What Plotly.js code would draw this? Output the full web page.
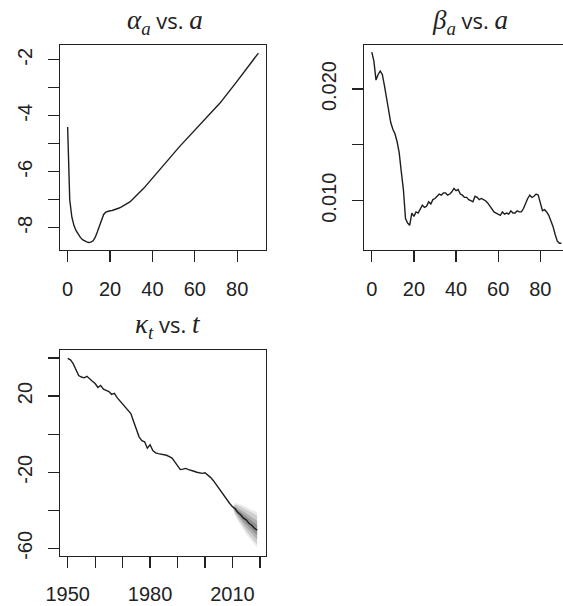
<!DOCTYPE html>
<html>
<head>
<meta charset="utf-8">
<script src="https://cdn.plot.ly/plotly-3.0.1.min.js"></script>
<style>
html,body{margin:0;padding:0;overflow:hidden;background:#fff;}
#chart{width:575px;height:606px;}
</style>
</head>
<body>
<div id="chart"></div>
<script>
// ---------- data ----------
const ages = [];
for (let i = 0; i <= 90; i++) ages.push(i);

const alphaA = [
 -4.40,-7.00,-7.62,-7.92,-8.10,-8.24,-8.34,-8.42,-8.47,-8.50,
 -8.52,-8.51,-8.46,-8.34,-8.15,-7.92,-7.68,-7.52,-7.44,-7.41,
 -7.39,-7.38,-7.36,-7.33,-7.30,-7.27,-7.23,-7.19,-7.14,-7.09,
 -7.03,-6.96,-6.89,-6.82,-6.74,-6.66,-6.58,-6.49,-6.40,-6.31,
 -6.22,-6.13,-6.04,-5.95,-5.86,-5.77,-5.68,-5.59,-5.50,-5.41,
 -5.32,-5.24,-5.16,-5.08,-5.00,-4.92,-4.84,-4.76,-4.68,-4.60,
 -4.52,-4.44,-4.36,-4.28,-4.20,-4.12,-4.04,-3.96,-3.88,-3.80,
 -3.71,-3.62,-3.53,-3.44,-3.35,-3.26,-3.16,-3.06,-2.96,-2.86,
 -2.76,-2.66,-2.56,-2.46,-2.36,-2.26,-2.16,-2.06,-1.96,-1.86,
 -1.76
];

const betaA = [
 0.0233,0.0225,0.0208,0.0213,0.0216,0.0213,0.0203,0.0192,0.0181,0.0170,
 0.0164,0.0160,0.0153,0.0143,0.0126,0.0110,0.0084,0.0080,0.0078,0.0089,
 0.0086,0.0090,0.0089,0.0093,0.0096,0.0094,0.0095,0.0099,0.0097,0.0101,
 0.0102,0.0104,0.0106,0.0105,0.0107,0.0107,0.0105,0.0106,0.0108,0.0111,
 0.0109,0.0110,0.0106,0.0105,0.0103,0.0103,0.0101,0.0100,0.0099,0.0104,
 0.0103,0.0101,0.0102,0.0101,0.0100,0.0098,0.0095,0.0093,0.0090,0.0089,
 0.0088,0.0087,0.0090,0.0088,0.0089,0.0088,0.0091,0.0089,0.0089,0.0091,
 0.0090,0.0090,0.0093,0.0098,0.0102,0.0105,0.0103,0.0104,0.0106,0.0105,
 0.0097,0.0091,0.0092,0.0090,0.0087,0.0082,0.0077,0.0070,0.0064,0.0062,
 0.0062
];

const years = [];
for (let y = 1950; y <= 2019; y++) years.push(y);

const kappaT = [
  39.8, 39.0, 37.0, 33.5, 30.8, 30.0, 29.6, 30.4, 28.9, 27.8,
  26.6, 24.5, 25.6, 23.6, 23.0, 22.4, 20.9, 21.4, 19.2, 17.6,
  15.6, 13.9, 12.4, 10.8,  6.6,  2.0, -1.4, -3.4, -4.0, -7.4,
  -5.6, -8.6, -9.8,-10.2,-10.5,-10.7,-11.1,-11.8,-12.6,-14.6,
 -16.4,-18.6,-18.4,-18.0,-18.6,-18.9,-19.5,-20.0,-20.4,-20.6,
 -20.3,-21.4,-22.7,-24.3,-26.4,-28.6,-30.4,-32.2,-34.8,-36.4,
 -38.1,-39.2,-41.2,-42.3,-44.1,-45.0,-46.8,-47.8,-49.4,-50.4
];

// forecast fan (2010-2019): nested prediction bands
const fanYears   = [2010,2011,2012,2013,2014,2015,2016,2017,2018,2019];
const fanWideHi  = [-38.1,-36.2,-36.4,-36.8,-37.5,-38.2,-38.9,-39.7,-40.4,-41.0];
const fanWideLo  = [-38.1,-42.8,-45.6,-48.0,-50.3,-52.4,-54.4,-56.3,-58.0,-59.6];
const fanOuterHi = [-38.1,-37.0,-37.4,-38.0,-38.8,-39.6,-40.4,-41.3,-42.0,-42.8];
const fanOuterLo = [-38.1,-42.0,-44.6,-46.8,-49.0,-51.0,-52.8,-54.7,-56.4,-58.0];
const fanMidHi   = [-38.1,-37.9,-38.9,-39.6,-40.6,-41.6,-42.6,-43.7,-44.6,-45.5];
const fanMidLo   = [-38.1,-41.1,-43.5,-45.2,-47.2,-49.0,-50.6,-52.3,-53.8,-55.3];
const fanInHi    = [-38.1,-38.6,-39.8,-40.9,-42.1,-43.3,-44.4,-45.6,-46.7,-47.7];
const fanInLo    = [-38.1,-40.4,-42.2,-43.9,-45.7,-47.3,-48.8,-50.4,-51.7,-53.1];

const xTicksAge = [0,20,40,60,80];
const alphaTickVals = [-8,-6,-4,-2];
const alphaTickText = ['-8','-6','-4','-2'];
const alphaMinorVals = [-7,-5,-3];
const betaTickVals = [0.010,0.020];
const betaTickText = ['0.010','0.020'];
const betaMinorVals = [0.015];
const yearTickVals = [1950,1980,2010];
const yearMinorVals = [1960,1970,1990,2000,2020];
const kappaTickVals = [-60,-20,20];
const kappaTickText = ['-60','-20','20'];
const kappaMinorVals = [-40,0,40];

// ---------- layout helpers (pixel -> paper) ----------
const W = 575, H = 606;
const dx = (a,b) => [a/W, b/W];
const dy = (top,bottom) => [1-bottom/H, 1-top/H];

const lineCol = '#1e1e1e';
const tickFont = {family:'Liberation Sans, Arial, sans-serif', size:20, color:'#222'};

function axisBase(extra, minorVals, standoff){
  return Object.assign({
    showgrid:false, zeroline:false, showline:true, mirror:true,
    linecolor:'#222', linewidth:1.3,
    ticks:'outside', ticklen:11, tickwidth:1.2, tickcolor:'#222',
    ticklabelstandoff:standoff,
    minor: minorVals ? {tickvals:minorVals, ticks:'outside', ticklen:11, tickwidth:1.2, tickcolor:'#222', showgrid:false} : undefined,
    tickfont:tickFont, fixedrange:true
  }, extra);
}

function band(hi, lo, color){
  return {
    x: fanYears.concat(fanYears.slice().reverse()),
    y: hi.concat(lo.slice().reverse()),
    xaxis:'x3', yaxis:'y3', type:'scatter', mode:'lines',
    fill:'toself', fillcolor:color, line:{width:0}, hoverinfo:'skip'
  };
}

const traces = [
  {x:ages, y:alphaA, xaxis:'x', yaxis:'y', type:'scatter', mode:'lines',
   line:{color:lineCol, width:1.4}},
  {x:ages, y:betaA, xaxis:'x2', yaxis:'y2', type:'scatter', mode:'lines',
   line:{color:lineCol, width:1.4}},
  band(fanWideHi, fanWideLo, 'rgba(0,0,0,0.08)'),
  band(fanOuterHi, fanOuterLo, 'rgba(0,0,0,0.12)'),
  band(fanMidHi, fanMidLo, 'rgba(0,0,0,0.15)'),
  band(fanInHi, fanInLo, 'rgba(0,0,0,0.18)'),
  {x:years, y:kappaT, xaxis:'x3', yaxis:'y3', type:'scatter', mode:'lines',
   line:{color:lineCol, width:1.4}}
];

const serif = 'font-family:Liberation Serif;font-size:27px';
function title(greek, sub, v, xc, yc){
  return {
    text: '<span style="'+serif+'"><i>'+greek+'</i><sub><i>'+sub+'</i></sub></span> vs. <span style="'+serif+'"><i>'+v+'</i></span>',
    xref:'paper', yref:'paper', x:xc/W, y:1-yc/H,
    xanchor:'center', yanchor:'middle', showarrow:false,
    font:{family:'Open Sans, sans-serif', size:22, color:'#222'}
  };
}

const layout = {
  width:W, height:H,
  margin:{l:0,r:0,t:0,b:0},
  paper_bgcolor:'#fff', plot_bgcolor:'#fff',
  showlegend:false,
  xaxis: axisBase({domain:dx(60,266), range:[-3.6,93.6], tickvals:xTicksAge, anchor:'y'}, null, 10),
  yaxis: axisBase({domain:dy(45,250), range:[-8.79,-1.47], tickvals:alphaTickVals, ticktext:alphaTickText, tickangle:-90, anchor:'x'}, alphaMinorVals, 8),
  xaxis2: axisBase({domain:dx(364.2,569), range:[-3.6,93.6], tickvals:xTicksAge, anchor:'y2'}, null, 10),
  yaxis2: axisBase({domain:dy(45,250), range:[0.00559,0.02394], tickvals:betaTickVals, ticktext:betaTickText, tickangle:-90, anchor:'x2'}, betaMinorVals, 8),
  xaxis3: axisBase({domain:dx(60,265.7), range:[1947.2,2022.1], tickvals:yearTickVals, anchor:'y3'}, yearMinorVals, 9),
  yaxis3: axisBase({domain:dy(350,556), range:[-64,44.2], tickvals:kappaTickVals, ticktext:kappaTickText, tickangle:-90, anchor:'x3'}, kappaMinorVals, 8),
  annotations:[
    title('α','a','a',165,22),
    title('β','a','a',470,22),
    title('κ','t','t',168,326)
  ]
};

Plotly.newPlot('chart', traces, layout, {staticPlot:true, displayModeBar:false});
</script>
</body>
</html>
